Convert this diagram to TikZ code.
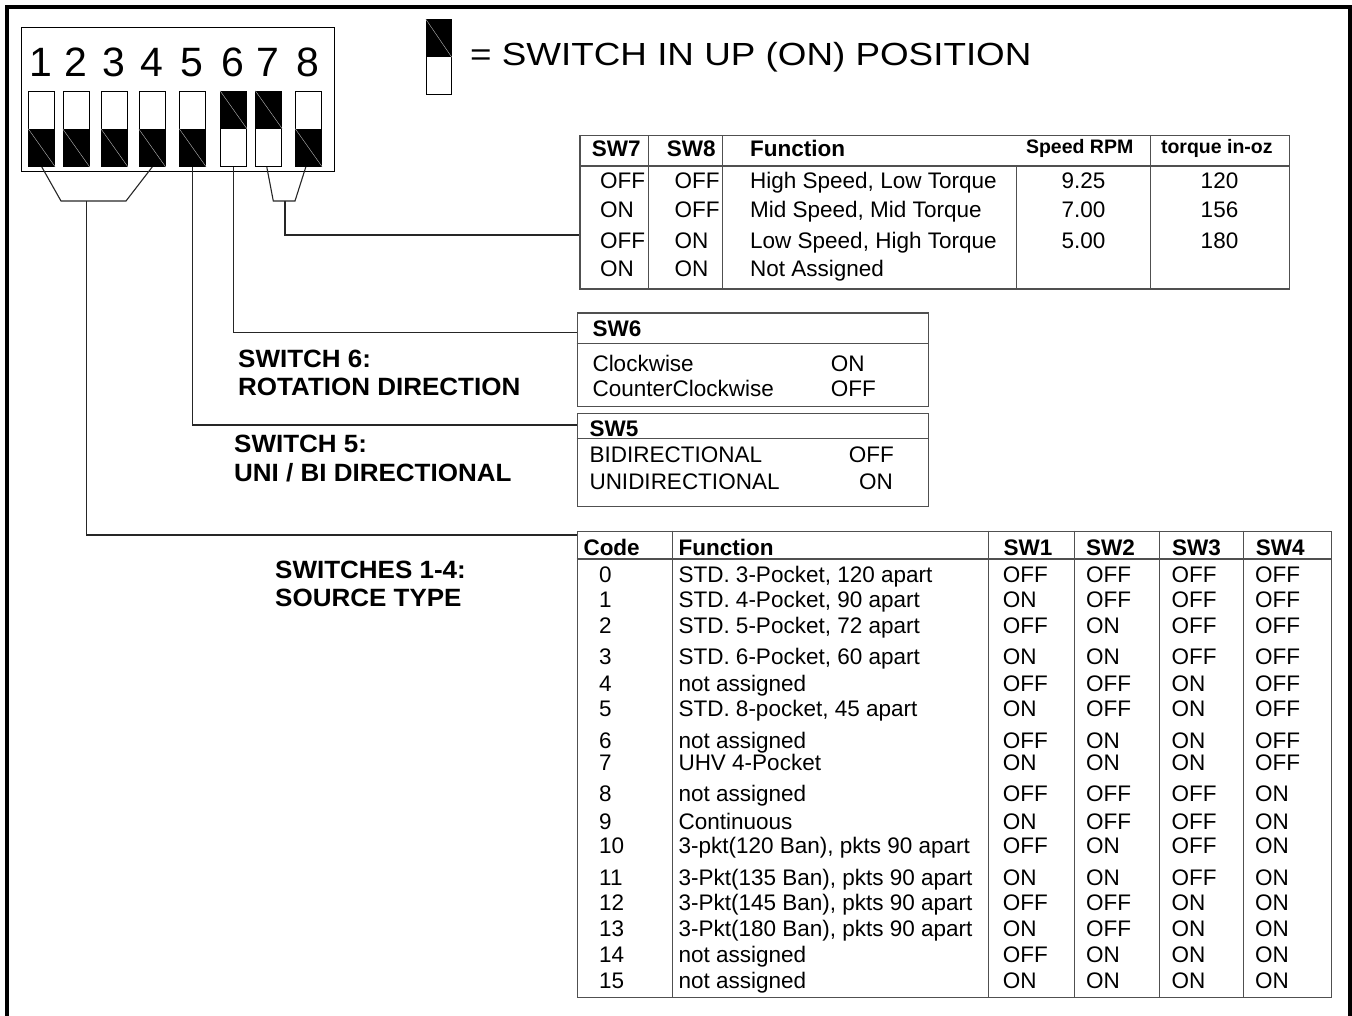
\documentclass[tikz,border=0pt]{standalone}
\usepackage{fontspec}
\setmainfont{Liberation Sans}
\newfontfamily\widesans[FakeStretch=1.15]{Liberation Sans}
\newfontfamily\labelsans[FakeStretch=1.04]{Liberation Sans}
\definecolor{tblgray}{RGB}{80,80,80}
\begin{document}
\begin{tikzpicture}[x=1pt,y=-1pt,
  body/.style={font=\fontsize{22.5}{27}\selectfont, inner sep=0pt, anchor=base west},
  bodyc/.style={font=\fontsize{22.5}{27}\selectfont, inner sep=0pt, anchor=base},
  bodyr/.style={font=\fontsize{22.5}{27}\selectfont, inner sep=0pt, anchor=base east},
  hdr/.style={font=\fontsize{22.5}{27}\selectfont\bfseries, inner sep=0pt, anchor=base west},
  shdr/.style={font=\fontsize{19.5}{23}\selectfont\bfseries, inner sep=0pt, anchor=base west},
  lbl/.style={font=\labelsans\fontsize{25}{30}\selectfont\bfseries, inner sep=0pt, anchor=base west},
  digit/.style={font=\fontsize{41}{48}\selectfont, inner sep=0pt, anchor=base},
  tbl/.style={draw=tblgray, line width=1.4pt, inner sep=0pt, anchor=north west},
  tblline/.style={draw=tblgray, line width=1.2pt},
  conn/.style={draw=black!85, line width=1.1pt},
  swbox/.style={draw=black, line width=1pt, inner sep=0pt, minimum width=26pt, minimum height=75.3pt, anchor=north west},
  diag/.style={draw=gray!55, line width=0.4pt}]
\useasboundingbox (0,0) rectangle (1352,1015);

% outer frame (open at the bottom)
\draw[line width=3.5pt] (7,1040) -- (7,7) -- (1350,7) -- (1350,1040);

% DIP switch block
\node[draw=black, line width=1.2pt, inner sep=0pt, anchor=north west, minimum width=313pt, minimum height=144pt] (block) at (21,27) {};
\foreach \i/\xl in {1/28.3,2/62.7,3/101,4/138.7,5/179.3,6/220,7/255.3,8/295.3}{
  \node[swbox] (s\i) at (\xl,90.7) {};
  \node[digit] (d\i) at (\xl+13,76) {\i};
}
\foreach \i in {1,2,3,4,5,8}{
  \fill[black] (s\i.west) rectangle (s\i.south east);
  \draw[diag] (s\i.west) -- (s\i.south east);
}
\foreach \i in {6,7}{
  \fill[black] (s\i.north west) rectangle (s\i.east);
  \draw[diag] (s\i.north west) -- (s\i.east);
}

% legend
\node[swbox, minimum width=25pt] (leg) at (425.7,19) {};
\fill[black] (leg.north west) rectangle (leg.east);
\draw[diag] (leg.north west) -- (leg.east);
\node[font=\widesans\fontsize{32}{38}\selectfont, inner sep=0pt, anchor=base west] (legtext) at (470,65) {= SWITCH IN UP (ON) POSITION};

% ---------- SW7 / SW8 table ----------
\node[tbl, minimum width=709.2pt, minimum height=153.3pt] (t78) at (579.3,135) {};
\draw[tblline] (t78.west |- 0,166) -- (t78.east |- 0,166);
\draw[tblline] (648.3,135) -- (648.3,288.3);
\draw[tblline] (722.3,135) -- (722.3,288.3);
\draw[tblline] (1016.8,166) -- (1016.8,288.3);
\draw[tblline] (1150.4,135) -- (1150.4,288.3);
\node[hdr] (h7) at (591.7,156.7) {SW7};
\node[hdr] (h8) at (666.7,156.7) {SW8};
\node[hdr] (h78f) at (750,156.7) {Function};
\node[shdr] (hsp) at (1025.8,153) {Speed RPM};
\node[shdr] (htq) at (1160.8,153) {torque in-oz};
\foreach \ry/\va/\vb/\vf/\vs/\vt [count=\k] in {
  188.3/OFF/OFF/{High Speed, Low Torque}/9.25/120,
  217.7/ON/OFF/{Mid Speed, Mid Torque}/7.00/156,
  248.3/OFF/ON/{Low Speed, High Torque}/5.00/180,
  276.7/ON/ON/{Not Assigned}//}{
  \node[body] (r78a\k) at (600,\ry) {\va};
  \node[body] (r78b\k) at (674.3,\ry) {\vb};
  \node[body] (r78f\k) at (750,\ry) {\vf};
  \node[bodyc] (r78s\k) at (1083.6,\ry) {\vs};
  \node[bodyc] (r78t\k) at (1219.5,\ry) {\vt};
}

% ---------- SW6 box ----------
\node[tbl, minimum width=351pt, minimum height=93.7pt] (t6) at (576.7,312.3) {};
\draw[tblline] (t6.west |- 0,343.3) -- (t6.east |- 0,343.3);
\node[hdr] (h6) at (592.3,336.7) {SW6};
\node[body] (cw) at (592.3,371.7) {Clockwise};
\node[body] (ccw) at (592.3,396.7) {CounterClockwise};
\node[body] (cwv) at (830.7,371.7) {ON};
\node[body] (ccwv) at (830.7,396.7) {OFF};

% ---------- SW5 box ----------
\node[tbl, minimum width=351.3pt, minimum height=93.3pt] (t5) at (576.7,412.7) {};
\draw[tblline] (t5.west |- 0,438.3) -- (t5.east |- 0,438.3);
\node[hdr] (h5) at (589.3,436.7) {SW5};
\node[body] (bi) at (589.3,462.7) {BIDIRECTIONAL};
\node[body] (uni) at (589.3,489.3) {UNIDIRECTIONAL};
\node[bodyr] (biv) at (894,462.7) {OFF};
\node[bodyr] (univ) at (893,489.3) {ON};

% ---------- SW1-4 table ----------
\node[tbl, minimum width=754.3pt, minimum height=466pt] (t14) at (576.7,530.7) {};
\draw[tblline] (t14.west |- 0,559) -- (t14.east |- 0,559);
\foreach \cx in {672.3,988.3,1074.3,1159.7,1243.3}{
  \draw[tblline] (t14.north -| \cx,0) -- (t14.south -| \cx,0);
}
\node[hdr] (hc) at (583.3,555) {Code};
\node[hdr] (hf) at (678.3,555) {Function};
\node[hdr] (h1) at (1003.3,555) {SW1};
\node[hdr] (h2) at (1086,555) {SW2};
\node[hdr] (h3) at (1172,555) {SW3};
\node[hdr] (h4) at (1255.7,555) {SW4};
\foreach \ry/\vc/\vf/\va/\vb/\vd/\ve [count=\k] in {
  582.3/0/{STD. 3-Pocket, 120 apart}/OFF/OFF/OFF/OFF,
  607.7/1/{STD. 4-Pocket, 90 apart}/ON/OFF/OFF/OFF,
  633.7/2/{STD. 5-Pocket, 72 apart}/OFF/ON/OFF/OFF,
  664.3/3/{STD. 6-Pocket, 60 apart}/ON/ON/OFF/OFF,
  691.7/4/{not assigned}/OFF/OFF/ON/OFF,
  716.7/5/{STD. 8-pocket, 45 apart}/ON/OFF/ON/OFF,
  748.3/6/{not assigned}/OFF/ON/ON/OFF,
  770/7/{UHV 4-Pocket}/ON/ON/ON/OFF,
  801/8/{not assigned}/OFF/OFF/OFF/ON,
  829/9/{Continuous}/ON/OFF/OFF/ON,
  853.3/10/{3-pkt(120 Ban), pkts 90 apart}/OFF/ON/OFF/ON,
  885/11/{3-Pkt(135 Ban), pkts 90 apart}/ON/ON/OFF/ON,
  910.7/12/{3-Pkt(145 Ban), pkts 90 apart}/OFF/OFF/ON/ON,
  936/13/{3-Pkt(180 Ban), pkts 90 apart}/ON/OFF/ON/ON,
  962.3/14/{not assigned}/OFF/ON/ON/ON,
  988.3/15/{not assigned}/ON/ON/ON/ON}{
  \node[body] (bc-\k) at (599,\ry) {\vc};
  \node[body] (bf-\k) at (678.3,\ry) {\vf};
  \node[body] (ba-\k) at (1002.7,\ry) {\va};
  \node[body] (bb-\k) at (1086,\ry) {\vb};
  \node[body] (bd-\k) at (1171.3,\ry) {\vd};
  \node[body] (be-\k) at (1255,\ry) {\ve};
}

% ---------- labels ----------
\node[lbl] (l6a) at (238,367) {SWITCH 6:};
\node[lbl] (l6b) at (238,395) {ROTATION DIRECTION};
\node[lbl] (l5a) at (234,452) {SWITCH 5:};
\node[lbl] (l5b) at (234,481) {UNI / BI DIRECTIONAL};
\node[lbl] (l14a) at (275,578) {SWITCHES 1-4:};
\node[lbl] (l14b) at (275,606) {SOURCE TYPE};

% ---------- connectors ----------
\coordinate (j14a) at (61,201);
\coordinate (j14b) at (126,201);
\coordinate (j14m) at (86.7,201);
\coordinate (e14) at (576.7,535);
\draw[conn] (s1.south) -- (j14a) -- (j14b) -- (s4.south);
\draw[conn] (j14m) |- (e14);

\coordinate (e5) at (576.7,425);
\draw[conn] (s5.south) |- (e5);

\coordinate (e6) at (576.7,332.3);
\draw[conn] (s6.south) |- (e6);

\coordinate (j78a) at (273.3,201);
\coordinate (j78b) at (295,201);
\coordinate (j78m) at (285,201);
\coordinate (e78) at (579.3,235);
\draw[conn] ([xshift=-2pt]s7.south) -- (j78a) -- (j78b) -- ([xshift=-3pt]s8.south);
\draw[conn] (j78m) |- (e78);
\end{tikzpicture}
\end{document}
